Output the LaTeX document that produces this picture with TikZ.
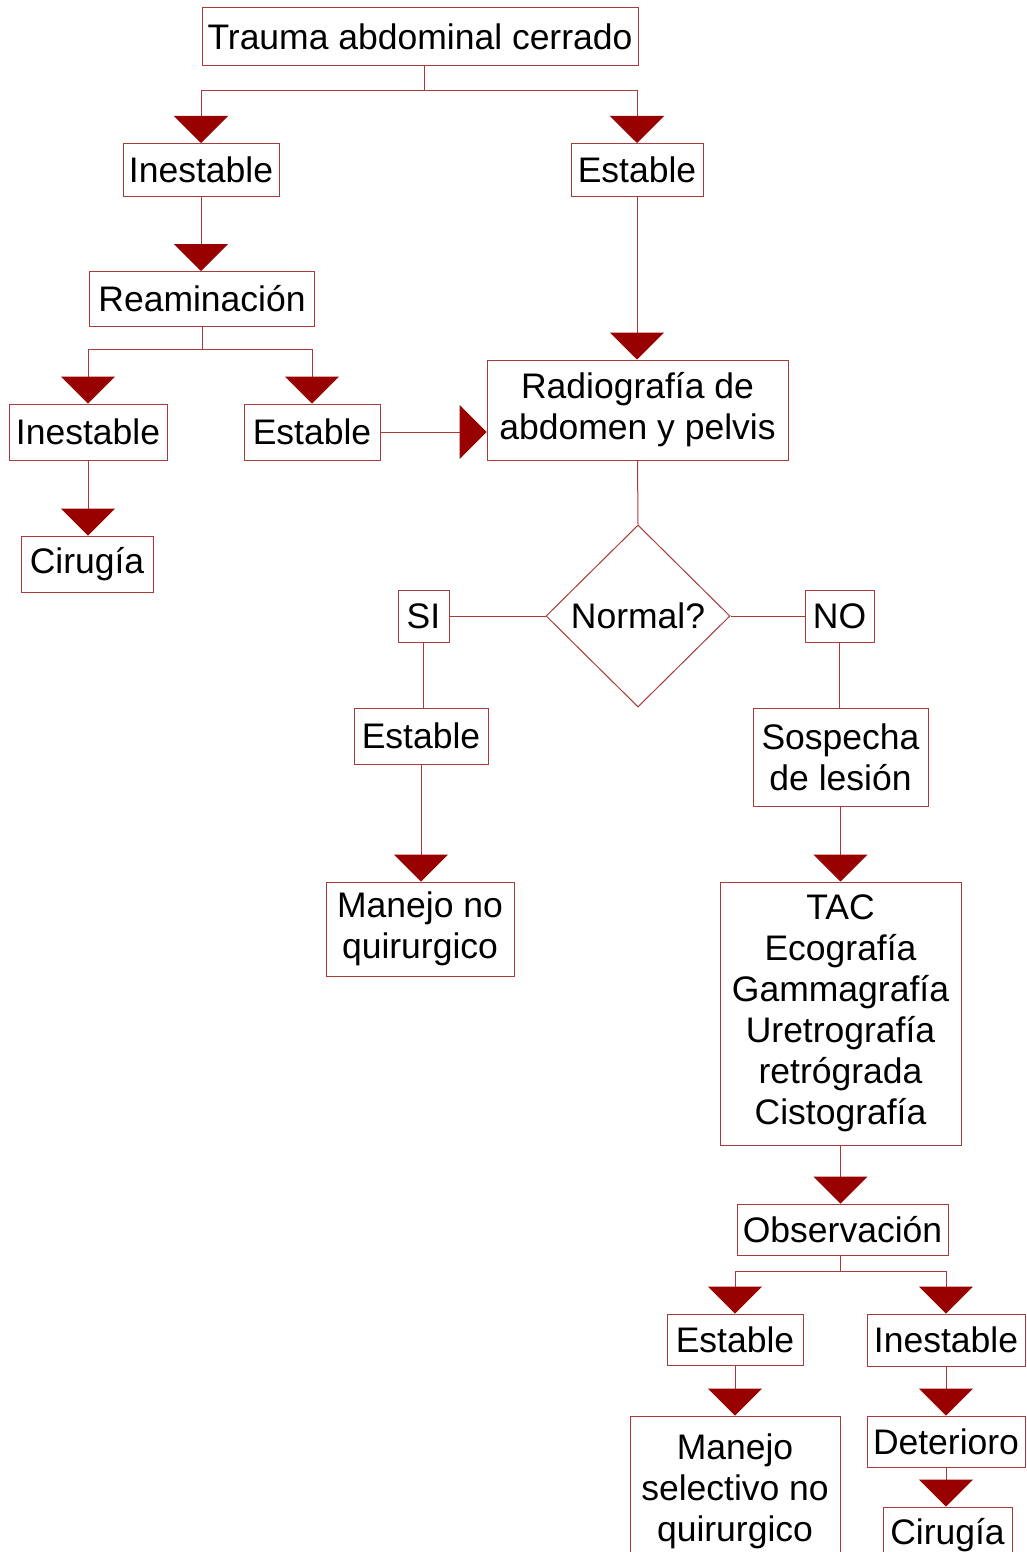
\documentclass[tikz,border=0pt]{standalone}
\usepackage{fontspec}
\setmainfont{Liberation Sans}
\usetikzlibrary{arrows.meta,shapes.geometric}
\definecolor{ln}{HTML}{A83A3A}
\definecolor{ar}{HTML}{990000}
\tikzset{
 box/.style={draw=ln, line width=1pt, fill=white, inner sep=0pt, align=center, font=\fontsize{35.5}{41}\selectfont},
 conn/.style={draw=ln, line width=1pt},
 arr/.style={conn, -{Triangle[width=54pt,length=27pt,fill=ar,color=ar]}},
}
\begin{document}
\begin{tikzpicture}[x=1pt,y=-1pt]
\clip (0,0) rectangle (1026,1552);
\fill[white] (0,0) rectangle (1026,1552);
\node[box, minimum width=436pt, minimum height=58pt] (t) at (420,37) {Trauma abdominal cerrado};
\node[box, minimum width=156pt, minimum height=53pt] (i1) at (201,170) {Inestable};
\node[box, minimum width=132pt, minimum height=53pt] (e1) at (637,170) {Estable};
\node[box, minimum width=225pt, minimum height=55pt] (re) at (202,299) {Reaminación};
\node[box, minimum width=158pt, minimum height=56pt] (i2) at (88,432) {Inestable};
\node[box, minimum width=136pt, minimum height=56pt] (e2) at (312,432) {Estable};
\node[box, minimum width=301pt, minimum height=100pt] (rad) at (637.5,410) {Radiografía de\\abdomen y pelvis};
\node[box, minimum width=132pt, minimum height=56pt] (c1) at (87,564) {Cirugía};
\node[box, shape=diamond, minimum width=184pt, minimum height=182pt] (dia) at (638,616) {Normal?};
\node[box, minimum width=51pt, minimum height=52pt] (si) at (423.5,616) {SI};
\node[box, minimum width=69pt, minimum height=52pt] (no) at (839.5,616) {NO};
\node[box, minimum width=134pt, minimum height=56pt] (e3) at (421,736) {Estable};
\node[box, minimum width=188pt, minimum height=94pt] (mn) at (420,929) {Manejo no\\quirurgico};
\node[box, minimum width=175pt, minimum height=98pt] (so) at (840.5,757) {Sospecha\\de lesión};
\node[box, minimum width=241pt, minimum height=263pt] (big) at (840.5,1013.5) {TAC\\Ecografía\\Gammagrafía\\Uretrografía\\retrógrada\\Cistografía};
\node[box, minimum width=211pt, minimum height=51pt] (ob) at (842.5,1229.5) {Observación};
\node[box, minimum width=136pt, minimum height=51pt] (e4) at (735,1339.5) {Estable};
\node[box, minimum width=158pt, minimum height=52pt] (i3) at (946,1340) {Inestable};
\node[box, minimum width=210pt, minimum height=150pt] (ms) at (735,1491) {Manejo\\selectivo no\\quirurgico};
\node[box, minimum width=158pt, minimum height=51pt] (de) at (946,1441.5) {Deterioro};
\node[box, minimum width=129pt, minimum height=56pt] (c2) at (947.5,1535) {Cirugía};

\draw[conn] ([xshift=4pt]t.south) -- ++(0,24) coordinate (j1);
\draw[arr] (j1) -| (i1.north);
\draw[arr] (j1) -| (e1.north);
\draw[arr] (i1.south) -- (i1.south |- re.north);
\draw[conn] (re.south) -- ++(0,22) coordinate (j2);
\draw[arr] (j2) -| (i2.north);
\draw[arr] (j2) -| (e2.north);
\draw[arr] (e1.south) -- (e1.south |- rad.north);
\draw[arr] (e2.east) -- (e2.east -| rad.west);
\draw[arr] (i2.south) -- (i2.south |- c1.north);
\draw[conn] (rad.south) -- (dia.north);
\draw[conn] (dia.west) -- (si.east);
\draw[conn] (dia.east) -- (no.west);
\draw[conn] (si.south) -- (si.south |- e3.north);
\draw[arr] (e3.south) -- (e3.south |- mn.north);
\draw[conn] (no.south) -- (no.south |- so.north);
\draw[arr] (so.south) -- (so.south |- big.north);
\draw[arr] (big.south) -- (big.south |- ob.north);
\draw[conn] ([xshift=-2pt]ob.south) -- ++(0,16) coordinate (j3);
\draw[arr] (j3) -| (e4.north);
\draw[arr] (j3) -| (i3.north);
\draw[arr] (e4.south) -- (e4.south |- ms.north);
\draw[arr] (i3.south) -- (i3.south |- de.north);
\draw[arr] (de.south) -- (de.south |- c2.north);
\end{tikzpicture}
\end{document}
